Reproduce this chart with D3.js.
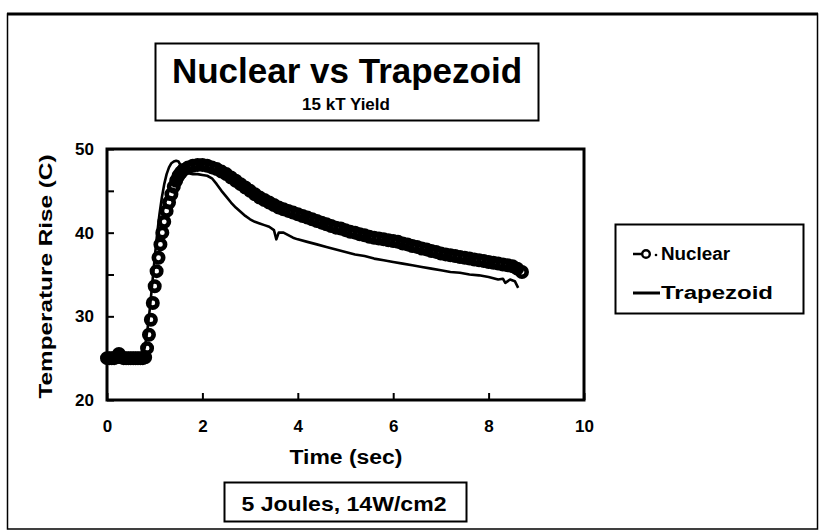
<!DOCTYPE html>
<html>
<head>
<meta charset="utf-8">
<script src="https://cdn.jsdelivr.net/npm/d3@7"></script>
<style>
  html, body { margin: 0; padding: 0; background: #fff; }
  svg { display: block; }
  text { font-family: "Liberation Sans", Arial, sans-serif; font-weight: bold; fill: #000; }
</style>
</head>
<body>
<svg id="chart" width="820" height="532"></svg>
<script>
// ---------------- data ----------------
const xTicks = [0, 2, 4, 6, 8, 10];
const yTicks = [20, 25, 30, 35, 40, 45, 50];
const yLabelTicks = [20, 30, 40, 50];

const nuclearTime = [0.00,0.05,0.10,0.15,0.20,0.25,0.30,0.35,0.40,0.45,0.50,0.55,0.60,0.65,0.70,0.75,0.80,
  0.84,0.88,0.92,0.96,1.00,1.04,1.08,1.12,1.16,1.20,1.25,1.30,1.35,1.40,1.45,1.50,1.55,1.60,1.70,1.80,1.90,
  2.00,2.10,2.20,2.30,2.40,2.50,2.60,2.70,2.80,2.90,3.00,3.10,3.20,3.30,3.40,3.50,3.60,3.70,3.80,3.90,
  4.00,4.10,4.20,4.30,4.40,4.50,4.60,4.70,4.80,4.90,5.00,5.10,5.20,5.30,5.40,5.50,5.60,5.70,5.80,5.90,
  6.00,6.10,6.20,6.30,6.40,6.50,6.60,6.70,6.80,6.90,7.00,7.10,7.20,7.30,7.40,7.50,7.60,7.70,7.80,7.90,
  8.00,8.10,8.20,8.30,8.40,8.50,8.60,8.70];
const nuclearTemp = [25.0,25.0,25.0,25.0,25.1,25.5,25.1,25.0,25.0,25.0,25.0,25.0,25.0,25.0,25.0,25.0,25.1,
  26.2,27.8,29.6,31.6,33.6,35.4,37.0,38.6,40.0,41.3,42.6,43.6,44.6,45.5,46.2,46.8,47.2,47.5,47.8,48.0,48.1,
  48.1,48.0,47.8,47.6,47.3,47.0,46.6,46.2,45.8,45.4,45.0,44.6,44.2,43.9,43.6,43.3,43.0,42.8,42.6,42.4,
  42.2,42.0,41.8,41.6,41.4,41.2,41.0,40.8,40.6,40.5,40.3,40.1,40.0,39.8,39.7,39.5,39.4,39.3,39.2,39.1,
  39.0,38.9,38.7,38.6,38.4,38.3,38.1,38.0,37.8,37.7,37.5,37.4,37.3,37.2,37.1,37.0,36.9,36.8,36.7,36.6,
  36.5,36.4,36.3,36.2,36.1,36.0,35.7,35.3];

const trapezoidTime = [0.00,0.70,0.75,0.80,0.85,0.90,0.95,1.00,1.05,1.10,1.15,1.20,1.25,1.30,1.35,1.40,1.45,
  1.50,1.55,1.60,1.70,1.80,1.90,2.00,2.10,2.20,2.30,2.40,2.50,2.60,2.70,2.80,2.90,3.00,3.10,3.20,3.30,3.40,
  3.50,3.55,3.60,3.70,3.80,3.90,4.00,4.20,4.40,4.60,4.80,5.00,5.20,5.40,5.60,5.80,6.00,6.20,6.40,6.60,
  6.80,7.00,7.20,7.40,7.60,7.80,8.00,8.20,8.30,8.35,8.45,8.55,8.62];
const trapezoidTemp = [25.0,25.0,25.3,26.5,28.5,31.0,34.0,37.0,39.8,42.2,44.2,45.8,47.0,47.8,48.3,48.5,48.6,
  48.5,48.0,47.4,47.1,47.0,47.0,46.9,46.8,46.5,45.8,45.0,44.3,43.6,43.0,42.5,42.0,41.6,41.3,41.1,40.9,40.7,
  40.3,39.2,40.0,40.0,39.7,39.4,39.2,38.9,38.6,38.3,38.0,37.7,37.4,37.2,36.9,36.7,36.5,36.3,36.1,35.9,
  35.7,35.5,35.3,35.2,35.0,34.9,34.7,34.4,34.5,34.0,34.4,34.2,33.4];

const titleText = "Nuclear vs Trapezoid";
const subtitleText = "15 kT Yield";
const xTitle = "Time (sec)";
const yTitle = "Temperature Rise (C)";
const noteText = "5 Joules, 14W/cm2";
const seriesNames = ["Nuclear", "Trapezoid"];

// ---------------- drawing ----------------
const svg = d3.select("#chart");

// outer frame
svg.append("rect").attr("x", 7.5).attr("y", 14).attr("width", 810).attr("height", 515)
  .attr("fill", "none").attr("stroke", "#000").attr("stroke-width", 1.5);
svg.append("line").attr("x1", 7).attr("x2", 818).attr("y1", 14).attr("y2", 14)
  .attr("stroke", "#000").attr("stroke-width", 3);

// title box
svg.append("rect").attr("x", 155.5).attr("y", 43.5).attr("width", 383).attr("height", 77)
  .attr("fill", "none").attr("stroke", "#000").attr("stroke-width", 2);
svg.append("text").attr("x", 347).attr("y", 83).attr("text-anchor", "middle")
  .style("font-size", "35px").text(titleText);
svg.append("text").attr("x", 346).attr("y", 110).attr("text-anchor", "middle")
  .style("font-size", "17px").text(subtitleText);

const x = d3.scaleLinear().domain([0, 10]).range([107, 584]);
const y = d3.scaleLinear().domain([20, 50]).range([400, 149]);

// axes
const yAxis = d3.axisLeft(y).tickValues(yTicks).tickSizeInner(-7).tickSizeOuter(0).tickPadding(13)
  .tickFormat(d => yLabelTicks.includes(d) ? d : "");
const gy = svg.append("g").attr("transform", `translate(${x(0)},0)`).call(yAxis);
const xAxis = d3.axisBottom(x).tickValues(xTicks).tickSizeInner(-7).tickSizeOuter(0).tickPadding(20);
const gx = svg.append("g").attr("transform", `translate(0,${y(20)})`).call(xAxis);
[gx, gy].forEach(g => {
  g.select(".domain").remove();
  g.selectAll(".tick line").attr("stroke", "#000").attr("stroke-width", 2);
  g.selectAll(".tick text").style("font-size", "17px").style("font-family", "'Liberation Sans', Arial, sans-serif").attr("fill", "#000");
});

// plot frame
svg.append("rect").attr("x", x(0)).attr("y", y(50)).attr("width", x(10) - x(0)).attr("height", y(20) - y(50))
  .attr("fill", "none").attr("stroke", "#000").attr("stroke-width", 3);

// axis titles
svg.append("text").attr("transform", `translate(52,${(y(20) + y(50)) / 2 + 2}) rotate(-90)`)
  .attr("text-anchor", "middle").style("font-size", "19px")
  .attr("textLength", 244).attr("lengthAdjust", "spacingAndGlyphs").text(yTitle);
svg.append("text").attr("x", 346).attr("y", 464).attr("text-anchor", "middle")
  .style("font-size", "20px").attr("textLength", 113).attr("lengthAdjust", "spacingAndGlyphs").text(xTitle);

// note box
svg.append("rect").attr("x", 224.5).attr("y", 482.5).attr("width", 242).attr("height", 39)
  .attr("fill", "none").attr("stroke", "#000").attr("stroke-width", 2);
svg.append("text").attr("x", 344).attr("y", 511).attr("text-anchor", "middle")
  .style("font-size", "21px").attr("textLength", 205).attr("lengthAdjust", "spacingAndGlyphs").text(noteText);

// series: trapezoid line
const trapData = trapezoidTime.map((t, i) => [t, trapezoidTemp[i]]);
svg.append("path").datum(trapData)
  .attr("d", d3.line().x(d => x(d[0])).y(d => y(d[1])))
  .attr("fill", "none").attr("stroke", "#000").attr("stroke-width", 2.6).attr("stroke-linejoin", "round");

// series: nuclear circles
const nucData = nuclearTime.map((t, i) => [t, nuclearTemp[i]]);
svg.append("g").selectAll("circle").data(nucData).join("circle")
  .attr("cx", d => x(d[0])).attr("cy", d => y(d[1])).attr("r", 4.7)
  .attr("fill", "none").attr("stroke", "#000").attr("stroke-width", 4.6);

// legend
const lg = svg.append("g");
lg.append("rect").attr("x", 615.5).attr("y", 224.5).attr("width", 188).attr("height", 89)
  .attr("fill", "none").attr("stroke", "#000").attr("stroke-width", 2);
lg.append("line").attr("x1", 633).attr("x2", 642).attr("y1", 254).attr("y2", 254)
  .attr("stroke", "#000").attr("stroke-width", 2.5);
lg.append("circle").attr("cx", 646).attr("cy", 254).attr("r", 3.8)
  .attr("fill", "none").attr("stroke", "#000").attr("stroke-width", 2.4);
lg.append("circle").attr("cx", 656).attr("cy", 255).attr("r", 1.3).attr("fill", "#000");
lg.append("text").attr("x", 661).attr("y", 260).style("font-size", "18px")
  .attr("textLength", 69).attr("lengthAdjust", "spacingAndGlyphs").text(seriesNames[0]);
lg.append("line").attr("x1", 633).attr("x2", 660).attr("y1", 293).attr("y2", 293)
  .attr("stroke", "#000").attr("stroke-width", 3);
lg.append("text").attr("x", 661).attr("y", 299).style("font-size", "18px")
  .attr("textLength", 112).attr("lengthAdjust", "spacingAndGlyphs").text(seriesNames[1]);
</script>
</body>
</html>
